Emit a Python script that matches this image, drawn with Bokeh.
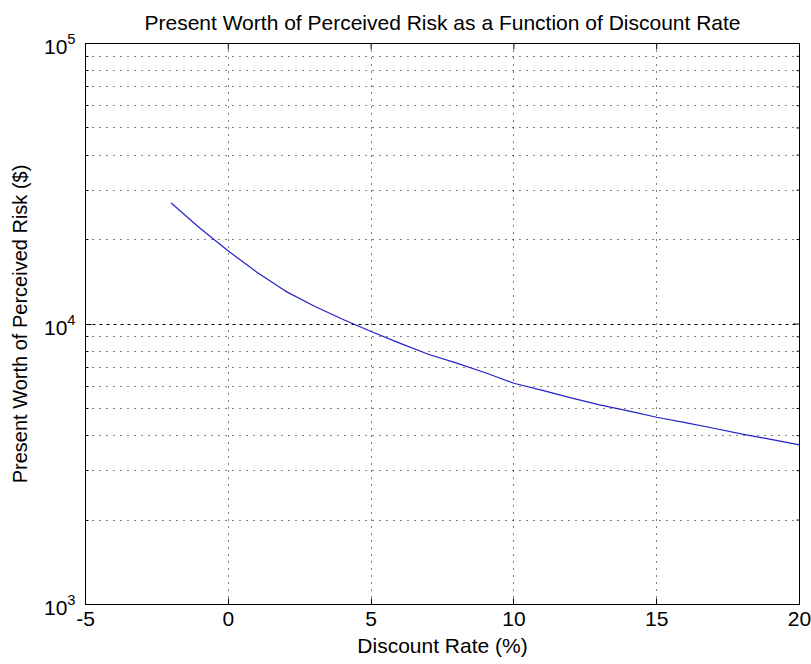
import math
from bokeh.plotting import figure
from bokeh.models import FixedTicker, Range1d
from bokeh.embed import file_html
from bokeh.resources import INLINE

# ---- data ----
discount_rate = [-2, -1, 0, 1, 2, 3, 4, 5, 6, 7, 8, 9, 10, 11, 12, 13, 14, 15, 16, 17, 18, 19, 20]
present_worth = [27000, 22000, 18200, 15300, 13100, 11600, 10400, 9400, 8550, 7800, 7250, 6700,
                 6150, 5800, 5450, 5150, 4900, 4650, 4450, 4250, 4050, 3880, 3710]

x_ticks = [-5, 0, 5, 10, 15, 20]
x_tick_labels = ["-5", "0", "5", "10", "15", "20"]
y_major_ticks = [1e3, 1e4, 1e5]
y_minor_ticks = [2e3, 3e3, 4e3, 5e3, 6e3, 7e3, 8e3, 9e3,
                 2e4, 3e4, 4e4, 5e4, 6e4, 7e4, 8e4, 9e4]

title_text = "Present Worth of Perceived Risk as a Function of Discount Rate"
x_label = "Discount Rate (%)"
y_label = "Present Worth of Perceived Risk ($)"

FONT = "Liberation Sans"

p = figure(width=811, height=664,
           x_range=Range1d(x_ticks[0], x_ticks[-1]),
           y_range=Range1d(y_major_ticks[0], y_major_ticks[-1]),
           y_axis_type="log",
           output_backend="svg", toolbar_location=None,
           min_border_left=85, min_border_right=12,
           min_border_top=42, min_border_bottom=60)

p.background_fill_color = "white"
p.border_fill_color = "white"
p.outline_line_color = "black"
p.outline_line_width = 1

# title
p.title.text = title_text
p.title.align = "center"
p.title.vertical_align = "middle"
p.title.text_font = FONT
p.title.text_font_size = "21px"
p.title.text_font_style = "normal"
p.title.text_color = "black"
p.title.standoff = 18

# x axis
p.xaxis.ticker = FixedTicker(ticks=x_ticks)
p.xaxis.major_label_overrides = {t: s for t, s in zip(x_ticks, x_tick_labels)}
p.xaxis.axis_label = x_label
p.xaxis.axis_label_text_font = FONT
p.xaxis.axis_label_text_font_size = "21px"
p.xaxis.axis_label_text_font_style = "normal"
p.xaxis.axis_label_text_color = "black"
p.xaxis.axis_label_standoff = 5
p.xaxis.major_label_text_font = FONT
p.xaxis.major_label_text_font_size = "21px"
p.xaxis.major_label_text_color = "black"
p.xaxis.major_label_standoff = 7
p.xaxis.major_tick_in = 6
p.xaxis.major_tick_out = 0
p.xaxis.minor_tick_line_color = None
p.xaxis.axis_line_color = "black"

# y axis
p.yaxis.ticker = FixedTicker(ticks=y_major_ticks, minor_ticks=y_minor_ticks)
p.yaxis.axis_label = y_label
p.yaxis.axis_label_text_font = FONT
p.yaxis.axis_label_text_font_size = "20px"
p.yaxis.axis_label_text_font_style = "normal"
p.yaxis.axis_label_text_color = "black"
p.yaxis.axis_label_standoff = 10
p.yaxis.major_label_text_font = FONT
p.yaxis.major_label_text_font_size = "21px"
p.yaxis.major_label_text_color = "black"
p.yaxis.major_label_standoff = 10
p.yaxis.major_tick_in = 6
p.yaxis.major_tick_out = 0
p.yaxis.minor_tick_in = 3
p.yaxis.minor_tick_out = 0
p.yaxis.axis_line_color = "black"

# grids (MATLAB-like dotted)
p.xgrid.grid_line_color = "black"
p.xgrid.grid_line_dash = "1 6"
p.xgrid.grid_line_width = 1
p.ygrid.grid_line_color = "black"
p.ygrid.grid_line_dash = "3 4"
p.ygrid.grid_line_width = 1
p.ygrid.minor_grid_line_color = "black"
p.ygrid.minor_grid_line_dash = "1 6"
p.ygrid.minor_grid_line_width = 1

# ticks on the top and right edges of the box (half of each dash is clipped by the frame)
p.scatter(x_ticks, [y_major_ticks[-1]] * len(x_ticks), marker="dash", size=12,
          angle=math.pi / 2, line_color="black", line_width=1)
p.scatter([x_ticks[-1]] * len(y_major_ticks), y_major_ticks, marker="dash", size=12,
          line_color="black", line_width=1)
p.scatter([x_ticks[-1]] * len(y_minor_ticks), y_minor_ticks, marker="dash", size=6,
          line_color="black", line_width=1)

# data curve
p.line(discount_rate, present_worth, line_color="#2222cc", line_width=1.2)

open("out.html", "w").write(file_html(p, INLINE))
